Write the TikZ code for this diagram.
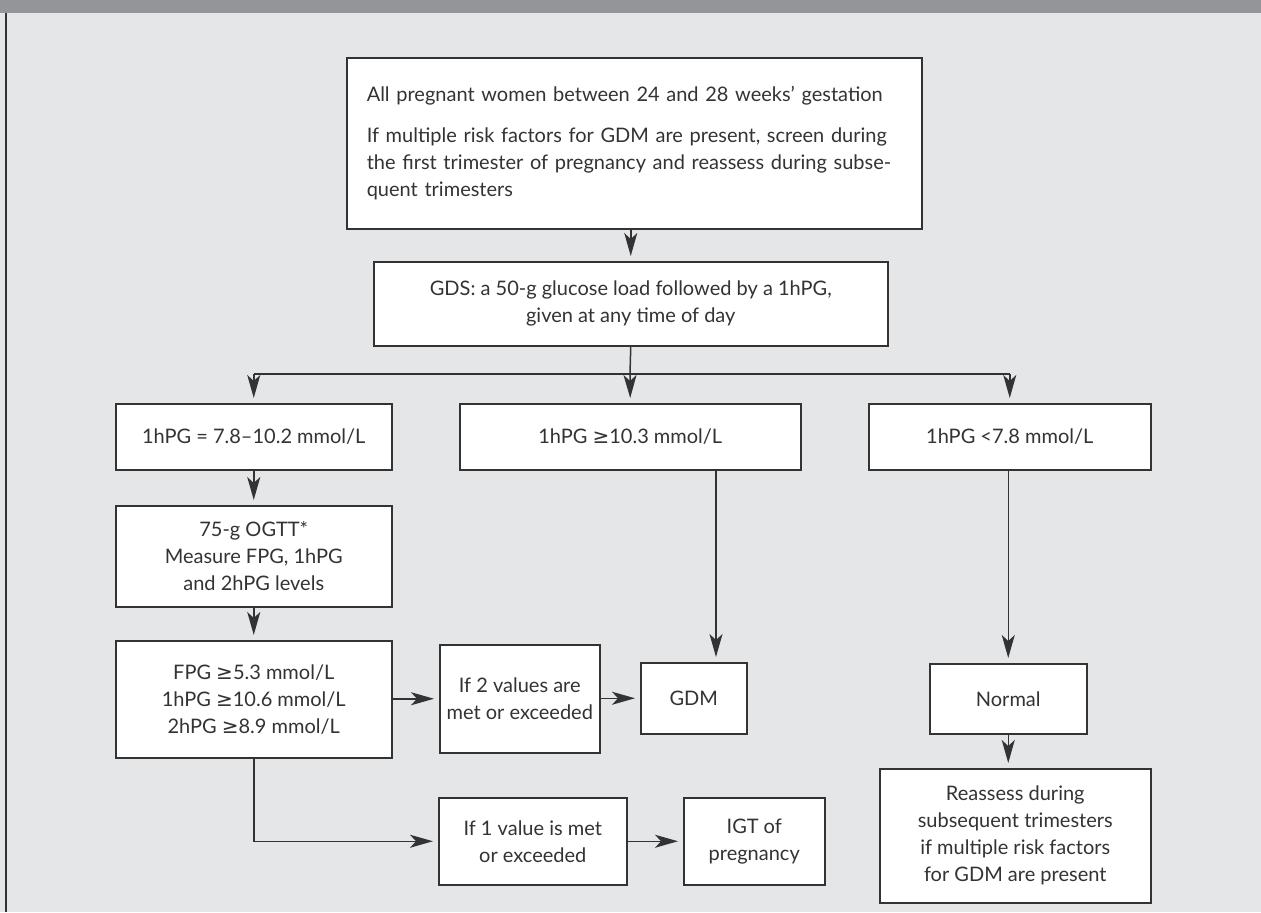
\documentclass[tikz,border=0pt]{standalone}
\usepackage{fontspec}
\setmainfont{Lato}
\newfontfamily\symfont{DejaVu Sans}
\newcommand\gesign{{\symfont ≥}}
\usetikzlibrary{arrows.meta}
\definecolor{hdr}{HTML}{949598}
\definecolor{panel}{HTML}{E5E6E8}
\definecolor{ink}{HTML}{333333}
\begin{document}
\begin{tikzpicture}[x=1pt,y=-1pt,
  font=\fontsize{20}{27}\selectfont,
  box/.style={draw=ink,line width=1.5pt,fill=white,text=ink,inner sep=0pt,align=center,anchor=north west},
  arr/.style={draw=ink,line width=1.5pt,shorten >=5pt,-{Stealth[length=23pt,width=13pt,inset=6pt]}},
  ln/.style={draw=ink,line width=1.5pt}]
% panel, header strip and left rule
\fill[panel] (0,0) rectangle (1261,912);
\fill[hdr] (0,0) rectangle (1261,13);
\draw[ink,line width=1.5pt] (6,13) -- (6,912);

% boxes
\node[box,minimum width=575,minimum height=171,text width=535,inner xsep=20pt,align=left] (all) at (346,57)
  {All pregnant women between 24 and 28 weeks’ gestation\\[14pt]
   If multiple risk factors for GDM are present, screen during\\
   the first trimester of pregnancy and reassess during subse-\\
   quent trimesters};
\node[box,minimum width=514,minimum height=84] (gds) at (373,261)
  {GDS: a 50-g glucose load followed by a 1hPG,\\ given at any time of day};
\node[box,minimum width=276,minimum height=66] (b1) at (115,403) {1hPG = 7.8–10.2 mmol/L};
\node[box,minimum width=341,minimum height=66] (b2) at (459,403) {1hPG \gesign10.3 mmol/L};
\node[box,minimum width=282,minimum height=66] (b3) at (868,403) {1hPG <7.8 mmol/L};
\node[box,minimum width=276,minimum height=101] (ogtt) at (115,505)
  {75-g OGTT*\\ Measure FPG, 1hPG\\ and 2hPG levels};
\node[box,minimum width=276,minimum height=117] (fpg) at (115,640)
  {FPG \gesign5.3 mmol/L\\ 1hPG \gesign10.6 mmol/L\\ 2hPG \gesign8.9 mmol/L};
\node[box,minimum width=160,minimum height=108] (two) at (439,644)
  {If 2 values are\\ met or exceeded};
\node[box,minimum width=106,minimum height=71] (gdm) at (640,662) {GDM};
\node[box,minimum width=188,minimum height=87] (one) at (438,797)
  {If 1 value is met\\ or exceeded};
\node[box,minimum width=141,minimum height=87] (igt) at (683,797)
  {IGT of\\ pregnancy};
\node[box,minimum width=157,minimum height=70] (nrm) at (929,663) {Normal};
\node[box,minimum width=271,minimum height=134] (rea) at (879,768)
  {Reassess during\\ subsequent trimesters\\ if multiple risk factors\\ for GDM are present};

% connectors
\coordinate (split) at (630,374);
\coordinate (gdmin) at (716,662);
\draw[arr] (all.south -| gds.north) -- (gds.north);
\draw[ln] (gds.south) -- (split);
\draw[ln] (split -| b1.north) -- (split -| b3.north);
\draw[arr] (split -| b1.north) -- (b1.north);
\draw[arr] (split) -- (b2.north);
\draw[arr] (split -| b3.north) -- (b3.north);
\draw[arr] (b1.south) -- (ogtt.north);
\draw[arr] (ogtt.south) -- (fpg.north);
\draw[arr] (fpg.east |- two.west) -- (two.west);
\draw[arr] (two.east |- gdm.west) -- (gdm.west);
\draw[arr] (b2.south -| gdmin) -- (gdmin);
\draw[arr] (fpg.south) |- (one.west);
\draw[arr] (one.east |- igt.west) -- (igt.west);
\draw[arr] (b3.south -| nrm.north) -- (nrm.north);
\draw[arr] (nrm.south) -- (nrm.south |- rea.north);
\end{tikzpicture}
\end{document}
